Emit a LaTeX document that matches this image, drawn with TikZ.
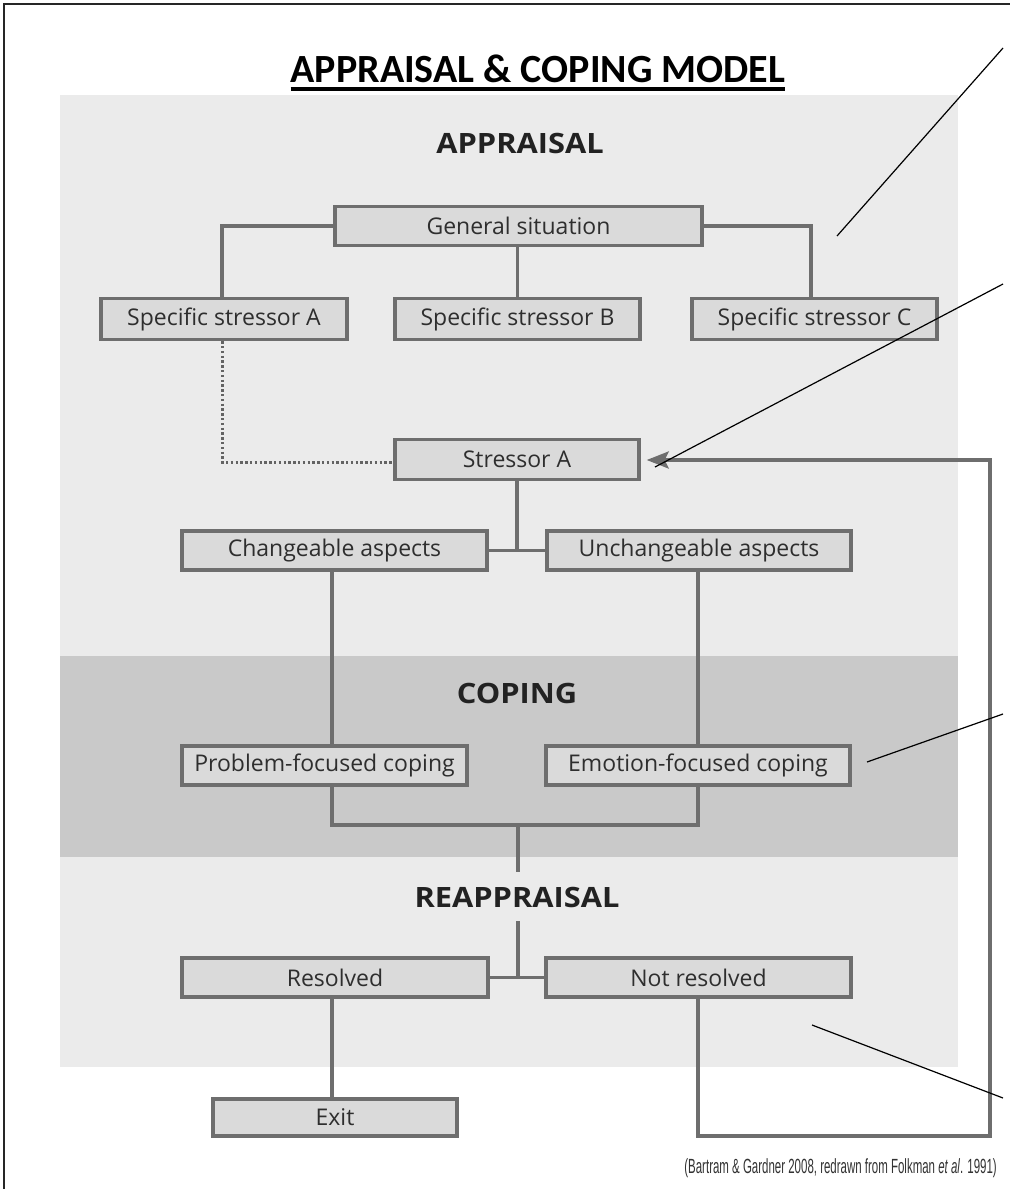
\documentclass[tikz,border=0pt]{standalone}
\usepackage{fontspec}
\setmainfont{Open Sans}
\newfontfamily\titlefont{Carlito}
\newfontfamily\headfont[FakeStretch=1.1]{Open Sans}
\newfontfamily\capfont[FakeStretch=0.56]{Liberation Sans}
\usetikzlibrary{arrows.meta}
\definecolor{panellight}{HTML}{EBEBEB}
\definecolor{paneldark}{HTML}{C9C9C9}
\definecolor{boxfill}{HTML}{DADADA}
\definecolor{linegray}{HTML}{6E6E6E}
\definecolor{headtext}{HTML}{222222}
\definecolor{boxtext}{HTML}{2E2E2E}
\tikzset{
  box/.style={draw=linegray, line width=3.4pt, fill=boxfill, inner sep=0pt,
    minimum height=39pt, text=boxtext, font=\fontsize{23}{25}\selectfont},
  heading/.style={text=headtext, font=\headfont\bfseries\fontsize{28}{30}\selectfont, inner sep=0pt},
  conn/.style={draw=linegray, line width=3.4pt},
  dotconn/.style={draw=linegray!90!black, line width=3pt, dash pattern=on 2.4pt off 2.4pt},
  pointer/.style={draw=black, line width=1.2pt},
}
\begin{document}
\begin{tikzpicture}[x=1pt,y=-1pt]
\useasboundingbox (0,0) rectangle (1010,1189);
\fill[white] (0,0) rectangle (1010,1189);
% frame
\draw[line width=2.6pt, black!85] (4,1189) -- (4,4) -- (1010,4);
% panels
\fill[panellight] (60,95) rectangle (958,1067);
\fill[paneldark] (60,656) rectangle (958,857);
% title
\node[font=\titlefont\bfseries\fontsize{40}{44}\selectfont, inner sep=0pt, anchor=base] (title) at (538,82) {APPRAISAL \& COPING MODEL};
\draw[line width=3.2pt] ([yshift=-7pt]title.base west) -- ([yshift=-7pt]title.base east);
% headings
\node[heading] (happ) at (520,143) {APPRAISAL};
\node[heading] (hcop) at (517,693) {COPING};
\node[heading] (hrea) at (517,897) {REAPPRAISAL};
% boxes
\node[box, minimum width=367pt] (gen) at (518.5,226) {General situation};
\node[box, minimum width=246pt, minimum height=41pt] (sa) at (224,319) {Specific stressor A};
\node[box, minimum width=245pt, minimum height=41pt] (sb) at (517.5,319) {Specific stressor B};
\node[box, minimum width=245pt, minimum height=41pt] (sc) at (814.5,319) {Specific stressor C};
\node[box, minimum width=244pt, minimum height=40pt] (sta) at (517,459.5) {Stressor A};
\node[box, minimum width=305pt] (chg) at (334.5,550.5) {Changeable aspects};
\node[box, minimum width=304pt] (unchg) at (699,550.5) {Unchangeable aspects};
\node[box, minimum width=285pt] (prob) at (324.5,765.5) {Problem-focused coping};
\node[box, minimum width=304pt] (emo) at (698,765.5) {Emotion-focused coping};
\node[box, minimum width=306pt] (res) at (335,977.5) {Resolved};
\node[box, minimum width=305pt] (nres) at (698.5,977.5) {Not resolved};
\node[box, minimum width=244pt, minimum height=37pt] (exit) at (335,1117.5) {Exit};
% helper coordinates
\coordinate (genL) at (222,226);
\coordinate (genR) at (811,226);
\coordinate (dotc) at (222,462);
\coordinate (junc1) at (517,550.5);
\coordinate (brL) at (332,825);
\coordinate (brR) at (698,825);
\coordinate (brM) at (518,825);
\coordinate (stem1) at (518,872);
\coordinate (stem2) at (518,921);
\coordinate (junc2) at (518,977.5);
\coordinate (loopA) at (698,1136);
\coordinate (loopB) at (990,1136);
\coordinate (loopC) at (990,460);
% connectors
\draw[conn] (gen.west) -- (genL) -- (genL |- sa.north);
\draw[conn] (gen.east) -- (genR) -- (genR |- sc.north);
\draw[conn] (gen.south -| sb.north) -- (sb.north);
\draw[dotconn] (sa.south -| dotc) -- (dotc) -- (dotc -| sta.west);
\draw[conn] (sta.south) -- (junc1);
\draw[conn] (chg.east) -- (unchg.west);
\draw[conn] (chg.south -| brL) -- (prob.north -| brL);
\draw[conn] (unchg.south -| brR) -- (emo.north -| brR);
\draw[conn] (prob.south -| brL) -- (brL) -- (brR) -- (emo.south -| brR);
\draw[conn] (brM) -- (stem1);
\draw[conn] (stem2) -- (junc2);
\draw[conn] (res.east) -- (nres.west);
\draw[conn] (res.south -| brL) -- (exit.north -| brL);
\draw[conn, -{Stealth[length=22pt, width=17pt, inset=4pt]}, shorten >=6pt] (nres.south -| loopA) -- (loopA) -- (loopB) -- (loopC) -- (loopC -| sta.east);
% pointer lines
\coordinate (p1a) at (1003,48);  \coordinate (p1b) at (837,236);
\coordinate (p2a) at (1003,284); \coordinate (p2b) at (655,467);
\coordinate (p3a) at (1003,714); \coordinate (p3b) at (867,762);
\coordinate (p4a) at (812,1025); \coordinate (p4b) at (1003,1098);
\draw[pointer] (p1a) -- (p1b);
\draw[pointer] (p2a) -- (p2b);
\draw[pointer] (p3a) -- (p3b);
\draw[pointer] (p4a) -- (p4b);
% caption
\node[anchor=base east, inner sep=0pt, text=black!80, font=\capfont\fontsize{20.5}{22}\selectfont] (cap) at (997,1173) {(Bartram \& Gardner 2008, redrawn from Folkman \textit{et al}. 1991)};
\end{tikzpicture}
\end{document}
